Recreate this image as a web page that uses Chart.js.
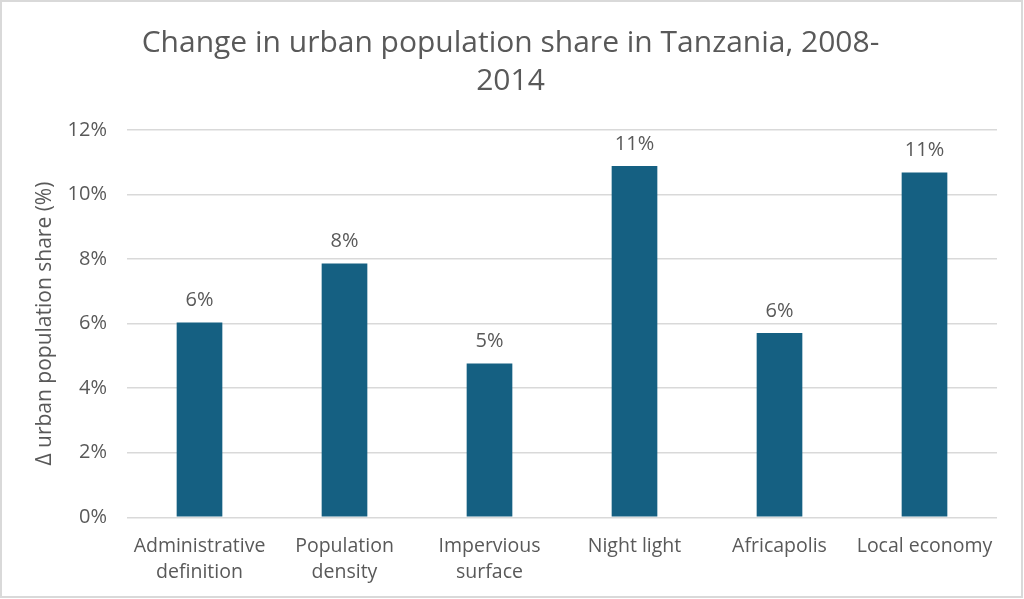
<!DOCTYPE html>
<html>
<head>
<meta charset="utf-8">
<script src="https://cdn.jsdelivr.net/npm/chart.js@4"></script>
<style>
  html, body { margin: 0; padding: 0; background: #ffffff; }
  #frame { position: absolute; left: 0; top: 0; width: 1023px; height: 598px; box-sizing: border-box; border: 2px solid #d9d9d9; background: #fff; }
  canvas { display: block; }
</style>
</head>
<body>
<div id="frame"><canvas id="c" width="1019" height="594"></canvas></div>
<script>
const titleLines = ["Change in urban population share in Tanzania, 2008-", "2014"];
const yAxisTitle = "\u0394 urban population share (%)";
const categories = [["Administrative", "definition"], ["Population", "density"], ["Impervious", "surface"], "Night light", "Africapolis", "Local economy"];
const values = [6.03, 7.86, 4.76, 10.88, 5.71, 10.68];
const yTicks = [0, 2, 4, 6, 8, 10, 12];

const FONT = "'Open Sans', 'Liberation Sans', sans-serif";
const TEXT = '#595959';
const BAR = '#156082';
const GRID = '#d9d9d9';

const dataLabels = {
  id: 'dataLabels',
  afterDatasetsDraw(chart) {
    const ctx = chart.ctx;
    const meta = chart.getDatasetMeta(0);
    ctx.save();
    ctx.font = "20px " + FONT;
    ctx.fillStyle = TEXT;
    ctx.textAlign = 'center';
    ctx.textBaseline = 'middle';
    meta.data.forEach((bar, i) => {
      ctx.fillText(Math.round(values[i]) + '%', bar.x, bar.y - 22);
    });
    ctx.restore();
  }
};

new Chart(document.getElementById('c'), {
  type: 'bar',
  data: {
    labels: categories,
    datasets: [{
      data: values,
      backgroundColor: BAR,
      borderWidth: 0,
      categoryPercentage: 1,
      barPercentage: 0.315
    }]
  },
  options: {
    responsive: false,
    animation: false,
    devicePixelRatio: 1,
    layout: { padding: { left: 22, right: 24, top: 0, bottom: -6 } },
    plugins: {
      legend: { display: false },
      tooltip: { enabled: false },
      title: {
        display: true,
        text: titleLines,
        color: TEXT,
        font: { family: FONT, size: 30, weight: 'normal', lineHeight: 1.28 },
        padding: { top: 22, bottom: 29 }
      }
    },
    scales: {
      x: {
        grid: { display: false, drawTicks: false },
        border: { display: false },
        ticks: {
          color: TEXT,
          font: { family: FONT, size: 19.5, lineHeight: 1.35 },
          padding: 16,
          maxRotation: 0,
          autoSkip: false
        }
      },
      y: {
        min: 0,
        max: 12,
        afterBuildTicks(scale) { scale.ticks = yTicks.map(v => ({ value: v })); },
        afterFit(scale) { scale.width = 103; },
        grid: { color: GRID, lineWidth: 1.5, drawTicks: false },
        border: { display: false },
        ticks: {
          color: TEXT,
          font: { family: FONT, size: 20 },
          padding: 20,
          callback: v => v + '%'
        },
        title: {
          display: true,
          text: yAxisTitle,
          color: TEXT,
          font: { family: FONT, size: 21, lineHeight: 1.2 },
          padding: { top: 8, bottom: 9 }
        }
      }
    }
  },
  plugins: [dataLabels]
});
</script>
</body>
</html>
